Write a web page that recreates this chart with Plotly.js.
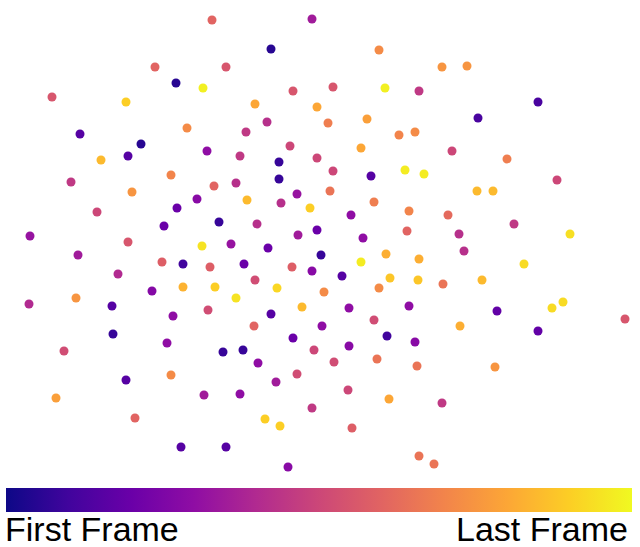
<!DOCTYPE html>
<html>
<head>
<meta charset="utf-8">
<script src="https://cdn.plot.ly/plotly-3.0.1.min.js"></script>
<style>
  body { margin: 0; padding: 0; background: #fff; }
  #plot { width: 640px; height: 547px; }
</style>
</head>
<body>
<div id="plot"></div>
<script>
// point positions (pixel-like units, y grows downward)
var xs = [212, 312, 271, 379, 155, 226, 442, 467, 176, 203,
          333, 385, 293, 419, 52, 126, 255, 317, 538, 367,
          478, 267, 187, 328, 80, 246, 399, 415, 141, 290,
          361, 452, 128, 101, 207, 240, 279, 317, 507, 71,
          132, 97, 30, 128, 164, 78, 162, 118, 152, 76,
          29, 112, 171, 214, 236, 279, 297, 197, 247, 281,
          310, 177, 219, 257, 317, 298, 202, 231, 268, 321,
          183, 210, 244, 292, 312, 255, 183, 215, 277, 324,
          236, 302, 208, 173, 271, 254, 333, 371, 405, 424,
          477, 330, 374, 409, 448, 351, 363, 407, 459, 464,
          386, 419, 361, 342, 390, 418, 379, 443, 482, 349,
          409, 374, 322, 460, 557, 493, 514, 570, 524, 497,
          552, 563, 625, 113, 64, 126, 56, 135, 167, 223,
          243, 293, 314, 258, 297, 171, 276, 204, 240, 312,
          265, 280, 181, 226, 288, 387, 349, 415, 334, 377,
          417, 348, 389, 442, 352, 419, 434, 495, 538];
var ys = [20, 19, 49, 50, 67, 67, 67, 66, 83, 88,
          87, 88, 91, 91, 97, 102, 104, 107, 102, 119,
          118, 122, 128, 123, 134, 132, 135, 132, 144, 146,
          148, 151, 156, 160, 151, 156, 162, 158, 159, 182,
          192, 212, 236, 242, 226, 255, 262, 274, 291, 298,
          304, 306, 175, 186, 183, 179, 194, 199, 200, 203,
          208, 208, 222, 224, 230, 235, 246, 244, 248, 255,
          264, 267, 264, 267, 271, 280, 287, 287, 288, 292,
          298, 307, 310, 316, 314, 326, 171, 176, 170, 174,
          191, 191, 202, 211, 215, 215, 238, 231, 234, 251,
          254, 259, 262, 276, 278, 280, 288, 284, 280, 308,
          306, 320, 326, 326, 180, 191, 224, 234, 264, 311,
          308, 302, 319, 334, 351, 380, 398, 418, 343, 352,
          350, 338, 350, 363, 374, 375, 382, 395, 394, 408,
          419, 426, 447, 447, 467, 336, 346, 342, 362, 359,
          366, 390, 399, 403, 428, 456, 464, 367, 331];
// frame position, 0 = first frame, 1 = last frame
var frames = [0.6, 0.35, 0.05, 0.72, 0.6, 0.55, 0.75, 0.75, 0.05, 0.98,
              0.55, 0.98, 0.55, 0.45, 0.55, 0.9, 0.8, 0.8, 0.12, 0.78,
              0.12, 0.42, 0.72, 0.68, 0.15, 0.45, 0.7, 0.72, 0.05, 0.5,
              0.8, 0.5, 0.15, 0.85, 0.3, 0.45, 0.08, 0.5, 0.68, 0.45,
              0.75, 0.5, 0.32, 0.55, 0.2, 0.35, 0.58, 0.4, 0.27, 0.75,
              0.4, 0.15, 0.7, 0.6, 0.42, 0.08, 0.32, 0.28, 0.85, 0.42,
              0.9, 0.2, 0.08, 0.42, 0.2, 0.35, 0.95, 0.32, 0.2, 0.08,
              0.1, 0.58, 0.2, 0.58, 0.28, 0.52, 0.83, 0.9, 0.92, 0.72,
              0.95, 0.85, 0.52, 0.3, 0.15, 0.6, 0.5, 0.15, 0.97, 0.97,
              0.85, 0.65, 0.68, 0.7, 0.62, 0.3, 0.3, 0.6, 0.42, 0.42,
              0.82, 0.82, 0.97, 0.15, 0.88, 0.88, 0.72, 0.65, 0.85, 0.3,
              0.3, 0.52, 0.3, 0.82, 0.5, 0.85, 0.45, 0.94, 0.93, 0.18,
              0.93, 0.93, 0.55, 0.08, 0.52, 0.15, 0.78, 0.6, 0.3, 0.08,
              0.08, 0.2, 0.5, 0.3, 0.52, 0.72, 0.35, 0.35, 0.3, 0.45,
              0.9, 0.9, 0.15, 0.15, 0.28, 0.1, 0.28, 0.28, 0.52, 0.65,
              0.65, 0.5, 0.8, 0.45, 0.58, 0.65, 0.65, 0.75, 0.18];

var cbLabels = ['First Frame', 'Last Frame'];

// matplotlib plasma, plotly has no built-in for it
var plasma = [
    [0.0, '#0d0887'], [0.1, '#41049d'], [0.2, '#6a00a8'], [0.3, '#8f0da4'],
    [0.4, '#b12a90'], [0.5, '#cc4778'], [0.6, '#e16462'], [0.7, '#f2844b'],
    [0.8, '#fca636'], [0.9, '#fcce25'], [1.0, '#f0f921']
];

var trace = {
    type: 'scatter', mode: 'markers',
    x: xs, y: ys,
    hoverinfo: 'none',
    marker: {
        size: 9,
        color: frames, cmin: 0, cmax: 1,
        colorscale: plasma,
        line: {width: 0},
        showscale: true,
        colorbar: {
            orientation: 'h',
            x: 319 / 640, xanchor: 'center',
            y: (547 - 512) / 547, yanchor: 'bottom',
            lenmode: 'pixels', len: 626,
            thickness: 24, thicknessmode: 'pixels',
            xpad: 0, ypad: 0,
            outlinewidth: 0,
            ticks: '', showticklabels: false
        }
    }
};

var labelFont = {family: 'Liberation Sans, Arial, sans-serif', size: 34, color: '#000'};

var layout = {
    width: 640,
    height: 547,
    margin: {l: 0, r: 0, t: 0, b: 0},
    paper_bgcolor: '#fff',
    plot_bgcolor: '#fff',
    showlegend: false,
    xaxis: {range: [0, 640], visible: false, fixedrange: true},
    yaxis: {range: [547, 0], visible: false, fixedrange: true},
    annotations: [
        {xref: 'x', yref: 'y', x: 3, y: 529, xanchor: 'left', yanchor: 'middle',
         text: cbLabels[0], showarrow: false, font: labelFont},
        {xref: 'x', yref: 'y', x: 630, y: 529, xanchor: 'right', yanchor: 'middle',
         text: cbLabels[1], showarrow: false, font: labelFont}
    ]
};

Plotly.newPlot('plot', [trace], layout, {staticPlot: true, displayModeBar: false});
</script>
</body>
</html>
